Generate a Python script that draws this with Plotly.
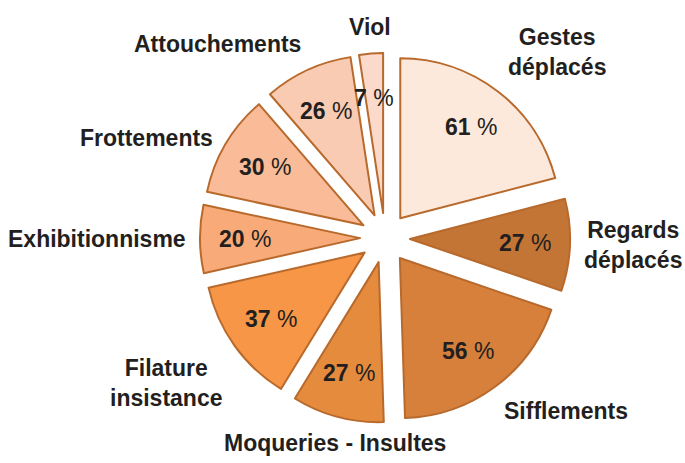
import math
import plotly.graph_objects as go

categories = ["Gestes<br>déplacés", "Regards<br>déplacés", "Sifflements", "Moqueries - Insultes",
              "Filature<br>insistance", "Exhibitionnisme", "Frottements", "Attouchements", "Viol"]
values = [61, 27, 56, 27, 37, 20, 30, 26, 7]
colors = ["#FDE9DB", "#C27535", "#D6803C", "#E58B3E", "#F79646",
          "#F8AB78", "#F9BB98", "#F9CBB2", "#FCDACB"]

W, H = 685, 463
CX, CY = 385, 238          # pie centre in pixels
HALF = 185                 # half size of pie domain (radius incl. pull)
PULL = 0.156
LABEL_R = 197              # distance of category labels from centre
VALUE_R = 140              # distance of value labels from centre
font_family = "Liberation Sans, Arial, sans-serif"
txt_font = dict(family=font_family, size=23, color="#231F20")

domain = dict(x=[(CX - HALF) / W, (CX + HALF) / W], y=[(H - CY - HALF) / H, (H - CY + HALF) / H])

fig = go.Figure()
fig.add_trace(go.Pie(
    labels=categories, values=values, sort=False, direction="clockwise", rotation=0,
    pull=[PULL] * len(values), domain=domain,
    marker=dict(colors=colors, line=dict(color="#B8692C", width=2)),
    textinfo="none", showlegend=False, hoverinfo="skip",
))

total = sum(values)
cum = 0
for cat, v in zip(categories, values):
    mid = (cum + v / 2) / total * 2 * math.pi
    cum += v
    s, c = math.sin(mid), math.cos(mid)
    # value label inside the slice
    fig.add_annotation(
        x=(CX + VALUE_R * s) / W, y=(H - CY + VALUE_R * c) / H,
        xref="paper", yref="paper", xanchor="center", yanchor="middle",
        text=f"<b>{v}</b> %", showarrow=False, font=txt_font,
    )
    # category label outside the slice
    xa = "left" if s > 0.3 else ("right" if s < -0.3 else "center")
    ya = "bottom" if c > 0.55 else ("top" if c < -0.55 else "middle")
    fig.add_annotation(
        x=(CX + LABEL_R * s) / W, y=(H - CY + LABEL_R * c) / H,
        xref="paper", yref="paper", xanchor=xa, yanchor=ya,
        text=f"<b>{cat}</b>", showarrow=False, align="center", font=txt_font,
    )

fig.update_layout(
    width=W, height=H, margin=dict(l=0, r=0, t=0, b=0),
    paper_bgcolor="white", plot_bgcolor="white",
    font=dict(family=font_family),
)
fig.write_html(
    "out.html",
    config={"displayModeBar": False},
    post_script="document.body.style.margin='0px';document.body.style.overflow='hidden';",
)
